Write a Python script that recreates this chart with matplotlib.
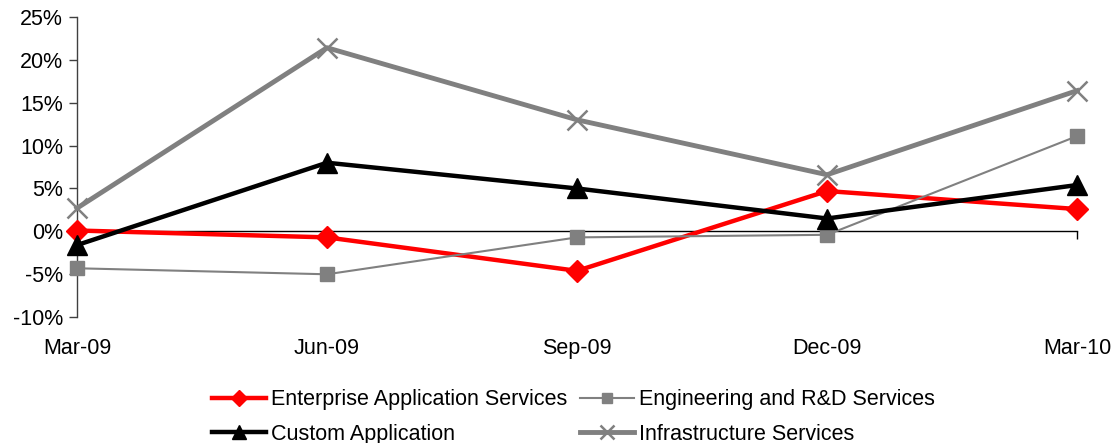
import matplotlib
matplotlib.use("Agg")
import matplotlib.pyplot as plt
from matplotlib.ticker import FuncFormatter, MultipleLocator

plt.rcParams['font.family'] = ['Liberation Sans', 'DejaVu Sans']

quarters = ["Mar-09", "Jun-09", "Sep-09", "Dec-09", "Mar-10"]
enterprise = [0.1, -0.7, -4.6, 4.7, 2.6]
engineering = [-4.3, -5.0, -0.7, -0.4, 11.1]
custom = [-1.6, 8.0, 5.0, 1.5, 5.4]
infrastructure = [2.7, 21.4, 13.0, 6.6, 16.4]

fig = plt.figure(figsize=(11.15, 4.43), dpi=100)
ax = fig.add_axes([0.069, 0.284, 0.897, 0.678])

x = list(range(len(quarters)))

h1, = ax.plot(x, enterprise, color='#ff0000', lw=3.2, marker='D', ms=11,
              mec='#ff0000', mfc='#ff0000', clip_on=False, zorder=3,
              label='Enterprise Application Services')
h2, = ax.plot(x, engineering, color='#808080', lw=1.5, marker='s', ms=10.5,
              mec='#808080', mfc='#808080', clip_on=False, zorder=3,
              label='Engineering and R&D Services')
h3, = ax.plot(x, custom, color='#000000', lw=3.2, marker='^', ms=14,
              mec='#000000', mfc='#000000', clip_on=False, zorder=4,
              label='Custom Application')
h4, = ax.plot(x, infrastructure, color='#808080', lw=3.5, marker='x', ms=15,
              mew=1.8, mec='#808080', clip_on=False, zorder=5,
              label='Infrastructure Services')

ax.set_xlim(0, len(quarters) - 1)
ax.set_ylim(-10, 25)
ax.yaxis.set_major_locator(MultipleLocator(5))
ax.yaxis.set_major_formatter(FuncFormatter(lambda v, p: f"{v:.0f}%"))

for s in ['top', 'right']:
    ax.spines[s].set_visible(False)
ax.spines['left'].set_color('#404040')
ax.spines['left'].set_linewidth(1.0)
ax.spines['bottom'].set_position(('data', 0))
ax.spines['bottom'].set_color('#000000')
ax.spines['bottom'].set_linewidth(1.0)

ax.set_xticks(x)
ax.set_xticklabels([])
ax.tick_params(axis='x', direction='out', length=6, width=1, color='#000000')
ax.tick_params(axis='y', direction='out', length=6, width=1, color='#404040',
               labelsize=15.5, pad=4)

sec = ax.secondary_xaxis('bottom')
sec.set_xticks(x)
sec.set_xticklabels(quarters)
sec.spines['bottom'].set_visible(False)
sec.tick_params(length=0, labelsize=15.5, pad=15)

handles = [h1, h3, h2, h4]
leg = fig.legend(handles=handles, labels=[h.get_label() for h in handles],
                 loc='upper left', bbox_to_anchor=(0.190, 0.121), ncol=2,
                 frameon=False, fontsize=15.5, handlelength=2.5,
                 columnspacing=0.6, handletextpad=0.25, labelspacing=0.62,
                 borderpad=0, borderaxespad=0, markerscale=0.7)

fig.savefig("out.png", dpi=100)
